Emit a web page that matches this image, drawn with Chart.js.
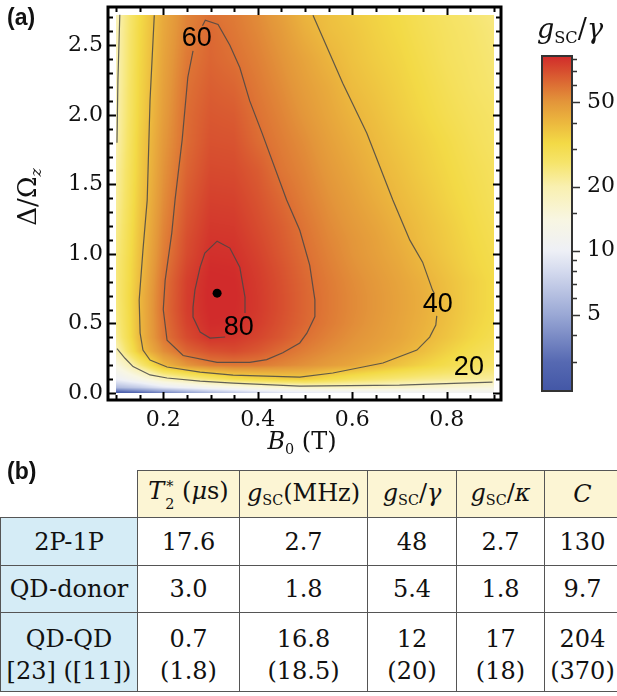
<!DOCTYPE html>
<html>
<head>
<meta charset="utf-8">
<script src="https://cdn.jsdelivr.net/npm/chart.js"></script>
<style>
  html, body { margin: 0; padding: 0; background: #fff; }
  body { width: 617px; height: 696px; position: relative; overflow: hidden; font-family: 'DejaVu Serif', serif; color: #111; }
  canvas { position: absolute; top: 0; }
  #main { left: 0; }
  #cbar { left: 500px; }
  .panel { position: absolute; z-index: 2; left: 7px; font-family: 'Liberation Sans', Arial, sans-serif; font-weight: bold; font-size: 23px; line-height: 1; }
  .title { position: absolute; white-space: nowrap; line-height: 1; transform: translate(-50%, -50%); }
  .sub { font-size: 0.6em; position: relative; top: 0.32em; }
  .ss { display: inline-flex; flex-direction: column; font-size: 0.6em; line-height: 1.25; vertical-align: 0.55em; margin-left: 1px; }
  #tbl { position: absolute; left: 0; top: 470px; border-collapse: collapse; table-layout: fixed; width: 620px; font-size: 24px; }
  #tbl td, #tbl th { border: 1px solid #555; padding: 0; text-align: center; vertical-align: middle; font-weight: normal; line-height: 32px; white-space: nowrap; }
  #tbl th { background: #fcf5d4; }
  #tbl th.corner { background: transparent; border: none; }
  #tbl td.sys { background: #d5ecf6; }
  #tbl tr.tall td { padding-top: 6px; }
</style>
</head>
<body>
<canvas id="main" width="617" height="460"></canvas>
<canvas id="cbar" width="117" height="460"></canvas>
<div class="panel" style="top:6px">(a)</div>
<div class="panel" style="top:460px">(b)</div>
<div class="title" style="left:27px; top:197px; font-size:26px; transform: translate(-50%, -50%) rotate(-90deg)">Δ/Ω<span class="sub"><i>z</i></span></div>
<div class="title" style="left:302px; top:441px; font-size:24px"><i>B</i><span class="sub">0</span> (T)</div>
<div class="title" style="left:570px; top:28px; font-size:27px"><i>g</i><span class="sub">SC</span>/<i>γ</i></div>
<table id="tbl"></table>
<script>
// ---- panel (a): g_sc/gamma over B0 (T) and detuning Delta/Omega_z ----
const bField = [0.1, 0.15, 0.2, 0.25, 0.3, 0.35, 0.4, 0.45, 0.5, 0.55, 0.6, 0.65, 0.7, 0.75, 0.8, 0.85, 0.9]
const detuning = [0, 0.04, 0.1, 0.2, 0.3, 0.4, 0.5, 0.6, 0.7, 0.8, 0.9, 1.0, 1.1, 1.2, 1.4, 1.6, 1.8, 2.0, 2.2, 2.4, 2.6, 2.72]

// one row per detuning value, one column per field value
const gRatio = [
    [2.3, 2.8, 3.6, 4.5, 5.5, 6.5, 7.5, 8.2, 8.8, 9.2, 9.6, 9.9, 10.1, 10.3, 10.5, 10.6, 10.7],
    [6, 7, 9, 10.5, 12, 13, 14.5, 15.5, 16.5, 17, 17, 17, 16.5, 16, 15.5, 15, 14.5],
    [10, 13, 18, 21.5, 25.5, 30, 32, 34, 35, 31, 28, 26, 24.5, 23.3, 22.5, 22, 21.5],
    [14, 24, 40, 50, 56, 57.5, 57, 54, 51, 48, 45, 41, 37, 33.5, 30.5, 28, 26],
    [19, 37, 52, 63, 69, 71, 67, 61, 56, 52, 49, 46, 42.5, 38.5, 34, 30.5, 28],
    [22, 40, 58, 71, 79.5, 78, 73, 67, 60, 55, 51, 48, 45, 41, 37, 33, 30],
    [23, 40, 59, 74, 82, 81.5, 76, 69, 62.5, 57, 52.5, 49, 45.5, 42, 38, 34, 31],
    [23.5, 40, 60, 75.5, 83, 82.5, 77, 70, 63, 57.5, 53, 49.5, 46, 42.5, 38.5, 34.5, 31.5],
    [24, 40, 59.5, 75.5, 83.5, 83, 77, 70, 63, 57.5, 53, 49.5, 46, 42.5, 38.5, 34.5, 31.5],
    [24, 39, 59, 75, 83, 82.5, 76.5, 69.5, 62.5, 57, 52.5, 49, 45.5, 42, 38, 34.5, 31.5],
    [24, 38.5, 57.5, 73, 82, 81.5, 75.5, 68.5, 61.5, 56, 51.5, 48, 44.5, 40.5, 37, 33.5, 31],
    [23.5, 38, 56, 71, 80.5, 80, 74, 67, 60.5, 55, 50.5, 47, 43.5, 39.5, 36, 33, 30.5],
    [23, 37.5, 55, 70, 79, 78.5, 72.5, 66, 59.5, 54, 50, 46.5, 42.5, 38.5, 35.5, 32.5, 30],
    [22.5, 37, 54, 68.5, 77.5, 77, 71, 65, 58.5, 53, 49, 45.5, 41.5, 38, 35, 32, 29.5],
    [21.5, 36, 52, 66, 74.5, 74, 68.5, 62, 56, 51, 47, 43, 39.5, 36.5, 33.5, 31, 28.5],
    [21, 35, 50.5, 63.5, 71.5, 71, 66, 58.5, 54, 49, 45, 41, 38, 35, 32.5, 30, 28],
    [20, 34.5, 49, 61.5, 69, 68.5, 61.5, 56.5, 52, 47, 43, 39.5, 36.5, 34, 31.5, 29, 27],
    [19.7, 33.5, 47.5, 61, 67, 66, 59.5, 54.5, 49.5, 45, 41, 38, 35, 32.5, 30, 28, 26.5],
    [19.5, 33, 46.5, 59.5, 65, 63, 57.5, 52.5, 47.5, 43.5, 39, 36.5, 34, 31.5, 29, 27, 25.5],
    [19.3, 32.5, 45.5, 57.5, 63, 60, 55.5, 50.5, 45.5, 41, 37.5, 35, 33, 30.5, 28, 26.5, 25],
    [19.2, 32, 44.5, 55.5, 62, 58, 53.5, 48.5, 42.5, 38.5, 36.5, 34, 32, 29.5, 27.5, 26, 24.5],
    [19, 31.5, 44, 54.5, 59.5, 57, 52.5, 47, 41, 38, 35.5, 33.5, 31.5, 29, 27, 25.5, 24]
]

// contour lines as [B0, Delta] points, null = gap under a label
const contour20Low = [[0.102, 0.32], [0.119, 0.25], [0.136, 0.19], [0.172, 0.13], [0.208, 0.108], [0.278, 0.086], [0.348, 0.072], [0.489, 0.05], [0.7, 0.057], [0.897, 0.079]]
const contour20Left = [[0.102, 1.8], [0.104, 2.25], [0.108, 2.72]]
const contour40 = [[0.181, 2.716], [0.172, 2.105], [0.166, 1.387], [0.157, 1.027], [0.149, 0.668], [0.151, 0.431], [0.157, 0.309], [0.172, 0.237],
    [0.208, 0.187], [0.278, 0.151], [0.348, 0.129], [0.489, 0.115], [0.559, 0.144], [0.665, 0.216], [0.737, 0.309], [0.764, 0.402],
    [0.777, 0.489], [0.779, 0.555], null, [0.774, 0.715], [0.77, 0.74], [0.749, 0.941], [0.722, 1.099], [0.686, 1.387], [0.631, 1.868],
    [0.58, 2.227], [0.517, 2.716]]
const contour60 = [[0.283, 2.64], [0.289, 2.68], [0.316, 2.65], [0.341, 2.5], [0.362, 2.34], [0.383, 2.1], [0.409, 1.87], [0.461, 1.39],
    [0.489, 1.17], [0.51, 0.92], [0.521, 0.67], [0.521, 0.55], [0.504, 0.43], [0.489, 0.36], [0.453, 0.29], [0.419, 0.24], [0.383, 0.22],
    [0.314, 0.22], [0.242, 0.27], [0.208, 0.38], [0.2, 0.6], [0.204, 0.81], [0.218, 1.15], [0.225, 1.39], [0.24, 1.82], [0.252, 2.27], [0.263, 2.46]]
const contour80 = [[0.373, 0.575], [0.373, 0.69], [0.362, 0.905], [0.341, 1.042], [0.314, 1.092], [0.288, 1.006], [0.278, 0.905], [0.267, 0.74],
    [0.263, 0.618], [0.263, 0.546], [0.278, 0.438], [0.299, 0.395], [0.331, 0.403]]
const contourLabels = ['20', '40', '60', '80']
const contourLabelSpots = [[0.847, 0.18], [0.781, 0.639], [0.271, 2.55], [0.36, 0.474]]
const optimum = [0.314, 0.718]

const bTickLabels = ['0.2', '0.4', '0.6', '0.8']
const deltaTickLabels = ['0.0', '0.5', '1.0', '1.5', '2.0', '2.5']
const colorbarTickLabels = ['5', '10', '20', '50']
const colorbarMinorTicks = [3, 4, 6, 7, 8, 9, 15, 30, 40, 60, 70, 80]
const colorbarRange = [2.19, 82.4]

// colour map of the legend (log spaced)
const colorStopValues = [2.19, 3, 5, 8, 10, 14, 20, 26, 32, 40, 50, 60, 72, 82.4]
const colorStopColors = ['#4357a6', '#5669b2', '#9aa8d5', '#d4daee', '#eef0f6', '#f8f6e2', '#f9f0b0',
    '#f6e46a', '#f3da46', '#ecb83e', '#e3963a', '#dd7034', '#d6482e', '#d12b2b']

// ---- panel (b): table ----
const tableHeads = [
    '<i>T</i><span class="ss"><span>*</span><span>2</span></span> (<i>μ</i>s)',
    '<i>g</i><span class="sub">SC</span>(MHz)',
    '<i>g</i><span class="sub">SC</span>/<i>γ</i>',
    '<i>g</i><span class="sub">SC</span>/<i>κ</i>',
    '<i>C</i>'
]
const systems = [['2P-1P'], ['QD-donor'], ['QD-QD', '[23] ([11])']]
const t2Star = [['17.6'], ['3.0'], ['0.7', '(1.8)']]
const gScMHz = [['2.7'], ['1.8'], ['16.8', '(18.5)']]
const gScOverGamma = [['48'], ['5.4'], ['12', '(20)']]
const gScOverKappa = [['2.7'], ['1.8'], ['17', '(18)']]
const cooperativity = [['130'], ['9.7'], ['204', '(370)']]

const hex = c => [1, 3, 5].map(k => parseInt(c.slice(k, k + 2), 16))
const stopRgb = colorStopColors.map(hex)
const stopLog = colorStopValues.map(Math.log)

const colorOf = v => {
    const lv = Math.log(v)
    if (lv <= stopLog[0]) return stopRgb[0]
    for (let k = 0; k < stopLog.length - 1; k++) {
        if (lv <= stopLog[k + 1]) {
            const t = (lv - stopLog[k]) / (stopLog[k + 1] - stopLog[k])
            return stopRgb[k].map((c, n) => c + (stopRgb[k + 1][n] - c) * t)
        }
    }
    return stopRgb[stopRgb.length - 1]
}

const locate = (arr, v) => {
    v = Math.min(Math.max(v, arr[0]), arr[arr.length - 1])
    let i = 0
    while (i < arr.length - 2 && v > arr[i + 1]) i++
    return [i, (v - arr[i]) / (arr[i + 1] - arr[i])]
}

const logRatio = gRatio.map(row => row.map(Math.log))

const heatmap = {
    id: 'heatmap',
    beforeDatasetsDraw(chart) {
        const {ctx, scales: {x, y}} = chart
        const left = Math.round(x.getPixelForValue(bField[0]))
        const right = Math.round(x.getPixelForValue(bField[bField.length - 1]))
        const top = Math.round(y.getPixelForValue(detuning[detuning.length - 1]))
        const bottom = Math.round(y.getPixelForValue(detuning[0]))
        const w = right - left, h = bottom - top
        const off = document.createElement('canvas')
        off.width = w
        off.height = h
        const octx = off.getContext('2d')
        const img = octx.createImageData(w, h)
        for (let r = 0; r < h; r++) {
            const [i, ty] = locate(detuning, y.getValueForPixel(top + r + 0.5))
            for (let c = 0; c < w; c++) {
                const [j, tx] = locate(bField, x.getValueForPixel(left + c + 0.5))
                const lo = logRatio[i][j] * (1 - tx) + logRatio[i][j + 1] * tx
                const hi = logRatio[i + 1][j] * (1 - tx) + logRatio[i + 1][j + 1] * tx
                const rgb = colorOf(Math.exp(lo * (1 - ty) + hi * ty))
                const p = (r * w + c) * 4
                img.data[p] = rgb[0]
                img.data[p + 1] = rgb[1]
                img.data[p + 2] = rgb[2]
                img.data[p + 3] = 255
            }
        }
        octx.putImageData(img, 0, 0)
        ctx.drawImage(off, left, top)
    }
}

const nearLabel = (labels, v) => labels.find(l => Math.abs(parseFloat(l) - v) < 1e-6) || ''

const frame = {
    id: 'frame',
    afterDatasetsDraw(chart) {
        const {ctx, chartArea: a, scales: {x, y}} = chart
        ctx.save()
        ctx.fillStyle = '#000'
        ctx.font = '27px "Liberation Sans", Arial, sans-serif'
        ctx.textAlign = 'center'
        ctx.textBaseline = 'middle'
        contourLabels.forEach((t, k) => {
            ctx.fillText(t, x.getPixelForValue(contourLabelSpots[k][0]), y.getPixelForValue(contourLabelSpots[k][1]))
        })
        ctx.strokeStyle = '#000'
        ctx.lineWidth = 2
        ctx.beginPath()
        x.ticks.forEach(t => {
            const px = Math.round(x.getPixelForValue(t.value)) + 0.5
            const len = nearLabel(bTickLabels, t.value) ? 8 : 5
            ctx.moveTo(px, a.bottom); ctx.lineTo(px, a.bottom - len)
            ctx.moveTo(px, a.top); ctx.lineTo(px, a.top + len)
        })
        y.ticks.forEach(t => {
            const py = Math.round(y.getPixelForValue(t.value)) + 0.5
            const len = nearLabel(deltaTickLabels, t.value) ? 8 : 5
            ctx.moveTo(a.left, py); ctx.lineTo(a.left + len, py)
            ctx.moveTo(a.right, py); ctx.lineTo(a.right - len, py)
        })
        ctx.stroke()
        ctx.lineWidth = 3
        ctx.strokeRect(a.left, a.top, a.right - a.left, a.bottom - a.top)
        ctx.restore()
    }
}

const segments = pts => {
    const out = [[]]
    pts.forEach(p => p ? out[out.length - 1].push({x: p[0], y: p[1]}) : out.push([]))
    return out.filter(s => s.length)
}

const contourSets = [contour20Low, contour20Left, contour40, contour60, contour80]
    .flatMap(segments)
    .map(data => ({
        data: data,
        showLine: true,
        pointRadius: 0,
        borderColor: 'rgba(70,70,70,0.85)',
        borderWidth: 1.2,
        tension: 0
    }))

const stepTicks = (from, to, step) => {
    const ticks = []
    for (let k = Math.round(from / step); k <= Math.round(to / step); k++) ticks.push({value: Math.round(k * step * 1000) / 1000})
    return ticks
}

const serif = size => ({family: "'DejaVu Serif', serif", size: size})
const noGrid = {display: false, drawTicks: false}

new Chart(document.getElementById('main'), {
    type: 'scatter',
    data: {
        datasets: [
            ...contourSets,
            {data: [{x: optimum[0], y: optimum[1]}], pointRadius: 4.5, backgroundColor: '#000', borderWidth: 0}
        ]
    },
    options: {
        responsive: false,
        animation: false,
        events: [],
        layout: {padding: {left: 0, top: 7, right: 116, bottom: 0}},
        plugins: {legend: {display: false}, tooltip: {enabled: false}},
        scales: {
            x: {
                type: 'linear', min: 0.083, max: 0.915,
                grid: noGrid, border: {display: false},
                afterBuildTicks: s => { s.ticks = stepTicks(0.1, 0.9, 0.05) },
                afterFit: s => { s.height = 60; s.paddingLeft = 0; s.paddingRight = 0 },
                ticks: {autoSkip: false, maxRotation: 0, padding: 7, color: '#111', font: serif(22),
                    callback: v => nearLabel(bTickLabels, v)}
            },
            y: {
                type: 'linear', min: -0.05, max: 2.775,
                grid: noGrid, border: {display: false},
                afterBuildTicks: s => { s.ticks = stepTicks(0, 2.7, 0.1) },
                afterFit: s => { s.width = 108; s.paddingTop = 0; s.paddingBottom = 0 },
                ticks: {autoSkip: false, padding: 5, color: '#111', font: serif(22),
                    callback: v => nearLabel(deltaTickLabels, v)}
            }
        }
    },
    plugins: [heatmap, frame]
})

const colorbar = {
    id: 'colorbar',
    afterDraw(chart) {
        const {ctx, chartArea: a, scales: {y}} = chart
        const g = ctx.createLinearGradient(0, a.bottom, 0, a.top)
        colorStopValues.forEach((v, k) => {
            const p = (a.bottom - y.getPixelForValue(v)) / (a.bottom - a.top)
            g.addColorStop(Math.min(1, Math.max(0, p)), colorStopColors[k])
        })
        ctx.save()
        ctx.fillStyle = g
        ctx.fillRect(a.left, a.top, a.right - a.left, a.bottom - a.top)
        ctx.strokeStyle = '#333'
        ctx.lineWidth = 2
        ctx.strokeRect(a.left, a.top, a.right - a.left, a.bottom - a.top)
        ctx.lineWidth = 1.5
        ctx.beginPath()
        y.ticks.forEach(t => {
            const py = Math.round(y.getPixelForValue(t.value)) + 0.5
            const len = nearLabel(colorbarTickLabels, t.value) ? 8 : 5
            ctx.moveTo(a.right, py); ctx.lineTo(a.right + len, py)
        })
        ctx.stroke()
        ctx.restore()
    }
}

new Chart(document.getElementById('cbar'), {
    type: 'scatter',
    data: {datasets: []},
    options: {
        responsive: false,
        animation: false,
        events: [],
        layout: {padding: {left: 42, top: 56, right: 0, bottom: 69}},
        plugins: {legend: {display: false}, tooltip: {enabled: false}},
        scales: {
            x: {display: false},
            y: {
                type: 'logarithmic', position: 'right', min: colorbarRange[0], max: colorbarRange[1],
                grid: noGrid, border: {display: false},
                afterBuildTicks: s => {
                    s.ticks = [...colorbarMinorTicks, ...colorbarTickLabels.map(Number)].sort((p, q) => p - q).map(v => ({value: v}))
                },
                afterFit: s => { s.width = 45; s.paddingTop = 0; s.paddingBottom = 0 },
                ticks: {autoSkip: false, padding: 15, color: '#111', font: serif(22),
                    callback: v => nearLabel(colorbarTickLabels, v)}
            }
        }
    },
    plugins: [colorbar]
})

// table
const columns = [t2Star, gScMHz, gScOverGamma, gScOverKappa, cooperativity]
const widths = [137, 102, 128, 89, 88, 76]
const heights = [47, 48, 47, 79]
let html = '<colgroup>' + widths.map(w => `<col style="width:${w}px">`).join('') + '</colgroup>'
html += `<tr style="height:${heights[0]}px"><th class="corner"></th>` + tableHeads.map(h => `<th>${h}</th>`).join('') + '</tr>'
systems.forEach((sys, r) => {
    const cls = sys.length > 1 ? ' class="tall"' : ''
    html += `<tr${cls} style="height:${heights[r + 1]}px"><td class="sys">${sys.join('<br>')}</td>` +
        columns.map(col => `<td>${col[r].join('<br>')}</td>`).join('') + '</tr>'
})
document.getElementById('tbl').innerHTML = html
</script>
</body>
</html>
